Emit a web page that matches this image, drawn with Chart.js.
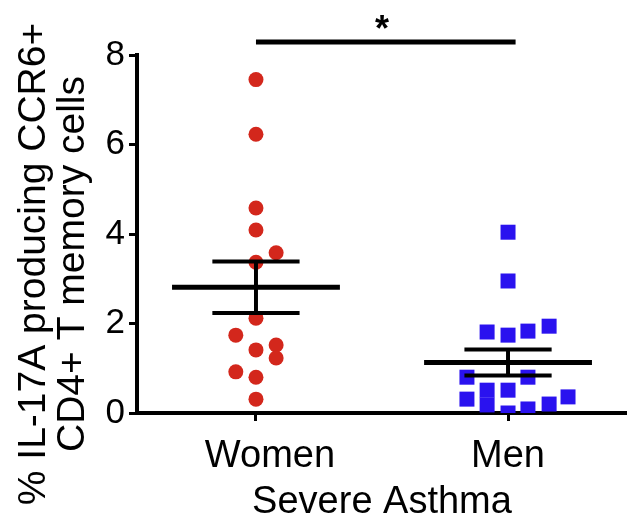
<!DOCTYPE html>
<html>
<head>
<meta charset="utf-8">
<script src="https://cdn.jsdelivr.net/npm/chart.js@4"></script>
<style>
  html, body { margin: 0; padding: 0; background: #fff; overflow: hidden; }
  canvas { display: block; }
</style>
</head>
<body>
<canvas id="myChart" width="627" height="520"></canvas>
<script>
// Groups on the x axis and the y tick values
const groups = ['Women', 'Men'];
const yTicks = [0, 2, 4, 6, 8];
const xTitle = 'Severe Asthma';
const yTitle = ['% IL-17A producing CCR6+', 'CD4+ T memory cells'];

// % IL-17A producing CCR6+ CD4+ T memory cells, one value per subject
const womenValues = [7.45, 6.23, 4.58, 4.09, 3.58, 3.37, 2.12, 1.74, 1.52, 1.41, 1.23, 0.92, 0.80, 0.31];
const womenSpread = [0, 0, 0, 0, 0.08, 0, 0, -0.08, 0.08, 0, 0.08, -0.08, 0, 0];

const menValues = [4.04, 2.95, 1.94, 1.83, 1.81, 1.74, 0.80, 0.80, 0.51, 0.51, 0.36, 0.31, 0.20, 0.18, 0.09, 0.00];
const menSpread = [0, 0, 0.163, 0.079, -0.083, 0, -0.163, 0.079, -0.083, 0, 0.238, -0.163, 0.163, -0.083, 0.079, 0];

// p < 0.05 between the groups
const sigLabel = '*';
const sigLevel = 8.29;

const FONT = "'Liberation Sans', Arial, Helvetica, sans-serif";

function meanSem(values) {
    const n = values.length;
    const mean = values.reduce((a, b) => a + b, 0) / n;
    const sd = Math.sqrt(values.reduce((a, b) => a + (b - mean) ** 2, 0) / (n - 1));
    return { mean: mean, sem: sd / Math.sqrt(n) };
}

function segment(x0, y0, x1, y1, width) {
    return {
        data: [{ x: x0, y: y0 }, { x: x1, y: y1 }],
        showLine: true,
        borderColor: '#000',
        borderWidth: width,
        borderCapStyle: 'butt',
        pointRadius: 0,
        clip: false,
        order: 0
    };
}

// mean line with SEM whiskers and caps
function summaryLines(center, values) {
    const s = meanSem(values);
    return [
        segment(center - 0.333, s.mean, center + 0.333, s.mean, 5),
        segment(center - 0.173, s.mean + s.sem, center + 0.173, s.mean + s.sem, 4),
        segment(center - 0.173, s.mean - s.sem, center + 0.173, s.mean - s.sem, 4),
        segment(center, s.mean - s.sem, center, s.mean + s.sem, 4)
    ];
}

function points(center, values, spread) {
    return values.map((v, i) => ({ x: center + spread[i], y: v }));
}

const datasets = [
    ...summaryLines(1, womenValues),
    ...summaryLines(2, menValues),
    segment(1, sigLevel, 2.03, sigLevel, 5),
    {
        label: groups[0],
        data: points(1, womenValues, womenSpread),
        pointStyle: 'circle',
        pointRadius: 7.5,
        backgroundColor: '#d3271c',
        borderWidth: 0,
        order: 1
    },
    {
        label: groups[1],
        data: points(2, menValues, menSpread),
        pointStyle: 'rect',
        pointRadius: 10.6,
        backgroundColor: '#2a12ef',
        borderWidth: 0,
        order: 1
    }
];

// Group labels, axis titles and the significance star
const textPlugin = {
    id: 'textPlugin',
    afterDraw(chart) {
        const ctx = chart.ctx;
        const x = chart.scales.x;
        const area = chart.chartArea;
        ctx.save();
        ctx.fillStyle = '#000';
        ctx.textAlign = 'center';
        ctx.textBaseline = 'alphabetic';

        ctx.font = '38px ' + FONT;
        ctx.fillText(groups[0], x.getPixelForValue(1) + 14, 467);
        ctx.fillText(groups[1], x.getPixelForValue(2), 467);
        ctx.fillText(xTitle, (area.left + area.right) / 2, 513);

        ctx.font = 'bold 36px ' + FONT;
        ctx.fillText(sigLabel, x.getPixelForValue(1.5), 41);

        ctx.translate(0, 264);
        ctx.rotate(-Math.PI / 2);
        ctx.font = '39px ' + FONT;
        ctx.textBaseline = 'middle';
        ctx.fillText(yTitle[0], 0, 34);
        ctx.fillText(yTitle[1], 0, 73);
        ctx.restore();
    }
};

const ctx = document.getElementById('myChart').getContext('2d');
new Chart(ctx, {
    type: 'scatter',
    data: { datasets: datasets },
    options: {
        responsive: false,
        animation: false,
        layout: {
            autoPadding: false,
            padding: { top: 55, right: 0, left: 0, bottom: 0 }
        },
        plugins: {
            legend: { display: false },
            tooltip: { enabled: false }
        },
        scales: {
            x: {
                type: 'linear',
                min: 0.528,
                max: 2.472,
                afterBuildTicks: scale => { scale.ticks = [{ value: 1 }, { value: 2 }]; },
                afterFit: scale => { scale.height = 107; },
                ticks: { display: false },
                grid: {
                    drawOnChartArea: false,
                    drawTicks: true,
                    tickLength: 8,
                    tickWidth: 3,
                    color: '#000'
                },
                border: { color: '#000', width: 4 }
            },
            y: {
                min: 0,
                max: 8,
                afterBuildTicks: scale => { scale.ticks = yTicks.map(v => ({ value: v })); },
                afterFit: scale => { scale.width = 137; },
                ticks: {
                    color: '#000',
                    padding: 4,
                    font: { family: FONT, size: 35 }
                },
                grid: {
                    drawOnChartArea: false,
                    drawTicks: true,
                    tickLength: 8,
                    tickWidth: 3,
                    color: '#000'
                },
                border: { color: '#000', width: 4 }
            }
        }
    },
    plugins: [textPlugin]
});
</script>
</body>
</html>
